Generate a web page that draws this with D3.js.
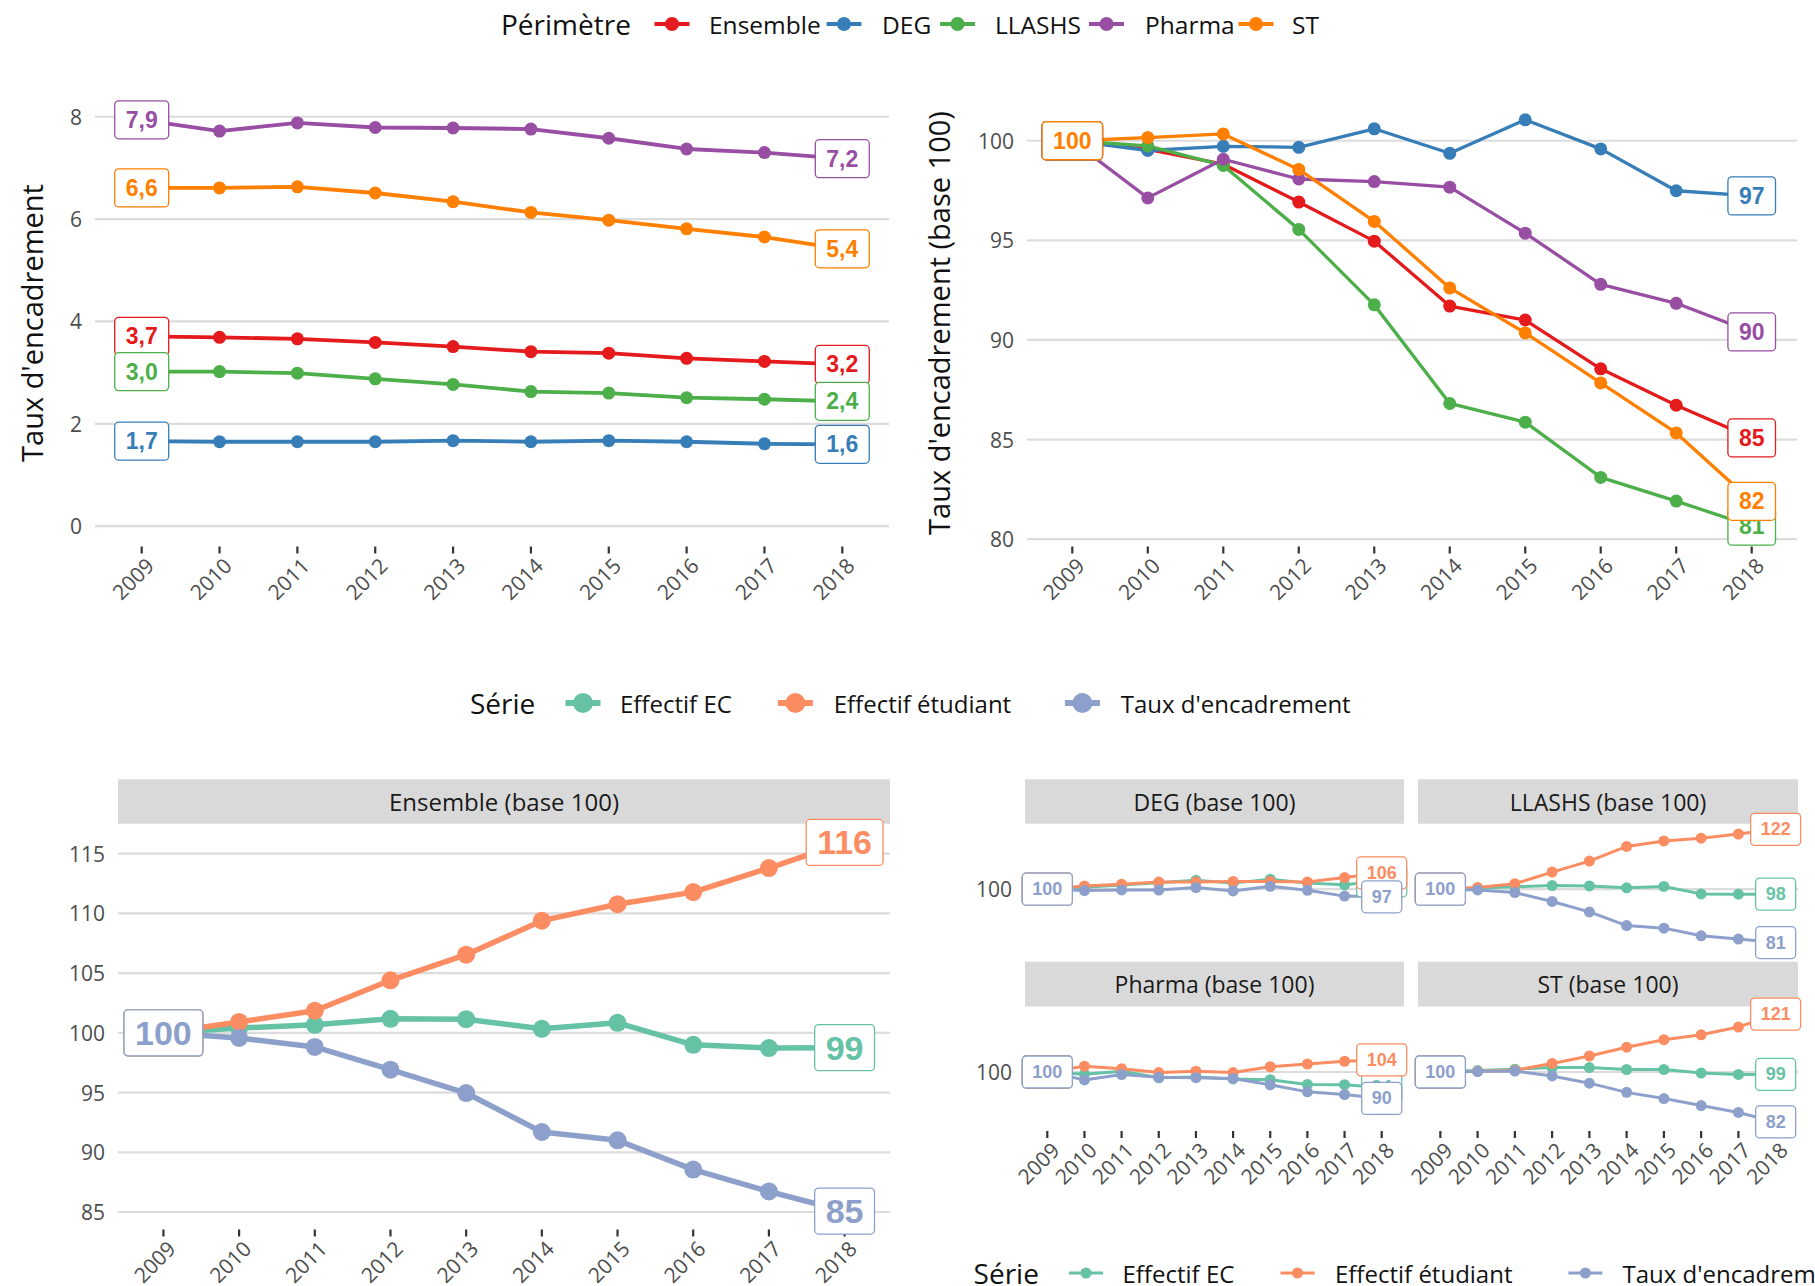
<!DOCTYPE html>
<html>
<head>
<meta charset="utf-8">
<script src="https://cdn.jsdelivr.net/npm/d3@7"></script>
<style>
  body { margin: 0; background: #fff; }
  svg { display: block; }
  text { font-family: "Open Sans", "DejaVu Sans", sans-serif; }
  text.lbl { font-family: "Liberation Sans", Arial, sans-serif; font-weight: bold; }
</style>
</head>
<body>
<svg id="chart" width="1815" height="1286"></svg>
<script>
// ---- data ----
const years = [2009, 2010, 2011, 2012, 2013, 2014, 2015, 2016, 2017, 2018];
const perimetres = ['Ensemble', 'DEG', 'LLASHS', 'Pharma', 'ST'];
const seriesNames = ["Effectif EC", "Effectif étudiant", "Taux d'encadrement"];

// taux d'encadrement (valeurs brutes)
const tauxEnsemble = [3.71, 3.69, 3.66, 3.59, 3.51, 3.41, 3.38, 3.28, 3.22, 3.16];
const tauxDEG      = [1.66, 1.65, 1.65, 1.65, 1.67, 1.65, 1.67, 1.65, 1.61, 1.60];
const tauxLLASHS   = [3.02, 3.02, 2.99, 2.88, 2.77, 2.63, 2.60, 2.51, 2.48, 2.44];
const tauxPharma   = [7.94, 7.72, 7.88, 7.79, 7.78, 7.76, 7.58, 7.37, 7.30, 7.18];
const tauxST       = [6.61, 6.61, 6.63, 6.51, 6.34, 6.13, 5.98, 5.81, 5.65, 5.42];

// taux d'encadrement (base 100)
const indexEnsemble = [100, 99.57, 98.82, 96.92, 94.96, 91.70, 91.00, 88.55, 86.72, 85.08];
const indexDEG      = [100, 99.51, 99.72, 99.67, 100.60, 99.37, 101.05, 99.59, 97.49, 97.23];
const indexLLASHS   = [100, 99.74, 98.76, 95.55, 91.76, 86.81, 85.87, 83.10, 81.91, 80.65];
const indexPharma   = [100, 97.13, 99.07, 98.08, 97.95, 97.67, 95.36, 92.79, 91.84, 90.40];
const indexST       = [100, 100.16, 100.34, 98.56, 95.95, 92.61, 90.35, 87.84, 85.33, 81.90];

// effectif EC (base 100)
const ecEnsemble = [100, 100.40, 100.67, 101.17, 101.14, 100.34, 100.84, 99.00, 98.73, 98.76];
const ecDEG      = [100, 100.7, 101.5, 102.3, 103.2, 102.2, 103.6, 102.2, 101.6, 103.0];
const ecLLASHS   = [100, 100.4, 100.9, 101.3, 101.2, 100.5, 101.0, 98.3, 98.2, 98.2];
const ecPharma   = [100, 99.2, 100.3, 97.9, 98.2, 97.5, 97.2, 95.5, 95.4, 94.4];
const ecST       = [100, 100.5, 101.0, 101.6, 101.6, 100.9, 100.9, 99.6, 99.1, 99.1];

// effectif étudiant (base 100)
const etuEnsemble = [100, 100.91, 101.85, 104.40, 106.54, 109.39, 110.77, 111.78, 113.79, 115.94];
const etuDEG      = [100, 101.2, 101.8, 102.6, 102.6, 102.8, 102.8, 102.6, 104.2, 105.9];
const etuLLASHS   = [100, 100.6, 102.0, 106.2, 110.2, 115.5, 117.5, 118.5, 120.0, 121.7];
const etuPharma   = [100, 102.1, 101.2, 99.8, 100.3, 99.8, 101.9, 102.9, 103.9, 104.4];
const etuST       = [100, 100.3, 100.6, 103.1, 105.8, 109.0, 111.7, 113.5, 116.3, 121.0];

const ticksTaux = [0, 2, 4, 6, 8];
const ticksIndex = [80, 85, 90, 95, 100];
const ticksEnsemble = [85, 90, 95, 100, 105, 110, 115];
const ticksFacets = [100];

// ---- styles ----
const set1 = ['#E41A1C', '#377EB8', '#4DAF4A', '#984EA3', '#FF7F00'];
const set2 = ['#66C2A5', '#FC8D62', '#8DA0CB'];

const svg = d3.select('#chart');

const fmtComma = v => d3.format('.1f')(v).replace('.', ',');
const fmtInt = d3.format('.0f');

function yScaleFor(values, top, bottom, forceZero) {
  let lo = d3.min(values), hi = d3.max(values);
  if (forceZero) lo = Math.min(lo, 0);
  const pad = (hi - lo) * 0.05;
  return d3.scaleLinear().domain([lo - pad, hi + pad]).range([bottom, top]);
}

function drawPanel(opt) {
  const g = svg.append('g');
  const x = d3.scalePoint().domain(years).range([opt.x0, opt.x1]).padding(0.6);
  const y = opt.y;

  g.selectAll(null).data(opt.ticks).join('line')
    .attr('x1', opt.x0).attr('x2', opt.x1)
    .attr('y1', d => y(d)).attr('y2', d => y(d))
    .attr('stroke', '#dcdcdc').attr('stroke-width', 2.2);

  if (opt.yLabels) {
    g.selectAll(null).data(opt.ticks).join('text')
      .attr('x', opt.x0 - 13).attr('y', d => y(d))
      .attr('text-anchor', 'end').attr('dominant-baseline', 'central')
      .attr('font-size', 21).attr('fill', '#4d4d4d')
      .text(d => d);
  }

  if (opt.xAxis) {
    const yb = y.range()[0];
    g.selectAll(null).data(years).join('line')
      .attr('x1', d => x(d)).attr('x2', d => x(d))
      .attr('y1', yb).attr('y2', yb + 7)
      .attr('stroke', '#333').attr('stroke-width', 2.2);
    g.selectAll(null).data(years).join('text')
      .attr('transform', d => `translate(${x(d) + 3},${yb + 10}) rotate(-45)`)
      .attr('text-anchor', 'end').attr('dy', '0.72em')
      .attr('font-size', 21).attr('fill', '#4d4d4d')
      .text(d => d);
  }

  const line = d3.line().x((d, i) => x(years[i])).y(d => y(d));
  opt.series.forEach(s => {
    g.append('path').attr('d', line(s.values))
      .attr('fill', 'none').attr('stroke', s.color)
      .attr('stroke-width', opt.lw).attr('stroke-linejoin', 'round');
  });
  opt.series.forEach(s => {
    g.selectAll(null).data(s.values).join('circle')
      .attr('cx', (d, i) => x(years[i])).attr('cy', d => y(d))
      .attr('r', opt.r).attr('fill', s.color);
  });
  // labels at first and last year
  opt.series.forEach(s => {
    [0, years.length - 1].forEach(i => {
      const lg = g.append('g')
        .attr('transform', `translate(${x(years[i])},${y(s.values[i])})`);
      const rect = lg.append('rect');
      const t = lg.append('text').attr('class', 'lbl')
        .attr('text-anchor', 'middle').attr('dominant-baseline', 'central')
        .attr('font-size', opt.fs)
        .attr('fill', s.color)
        .text(opt.fmt(s.values[i]));
      const w = t.node().getComputedTextLength() + 2 * opt.padX;
      rect.attr('x', -w / 2).attr('y', -opt.boxH / 2)
        .attr('width', w).attr('height', opt.boxH)
        .attr('rx', 4).attr('fill', '#fff')
        .attr('stroke', s.color).attr('stroke-width', 1.3);
    });
  });
}

function drawStrip(x0, x1, y0, y1, label, fs) {
  svg.append('rect').attr('x', x0).attr('y', y0)
    .attr('width', x1 - x0).attr('height', y1 - y0).attr('fill', '#d9d9d9');
  svg.append('text').attr('x', (x0 + x1) / 2).attr('y', (y0 + y1) / 2)
    .attr('text-anchor', 'middle').attr('dominant-baseline', 'central')
    .attr('font-size', fs).attr('fill', '#1a1a1a').text(label);
}

function drawLegend(title, titleX, y, items, key) {
  const g = svg.append('g');
  g.append('text').attr('x', titleX).attr('y', y)
    .attr('dominant-baseline', 'central').attr('font-size', 28)
    .attr('fill', '#111').text(title);
  items.forEach(it => {
    g.append('line')
      .attr('x1', it.kx - key.len / 2).attr('x2', it.kx + key.len / 2)
      .attr('y1', y).attr('y2', y)
      .attr('stroke', it.color).attr('stroke-width', key.lw);
    g.append('circle').attr('cx', it.kx).attr('cy', y).attr('r', key.r).attr('fill', it.color);
    g.append('text').attr('x', it.tx).attr('y', y)
      .attr('dominant-baseline', 'central').attr('font-size', key.fs)
      .attr('fill', '#111').text(it.label);
  });
}

function axisTitle(text, cx, cy) {
  svg.append('text').attr('transform', `translate(${cx},${cy}) rotate(-90)`)
    .attr('text-anchor', 'middle').attr('dominant-baseline', 'central')
    .attr('font-size', 29).attr('fill', '#111').text(text);
}

// ---- top legend ----
const topKeyX = [672, 844, 957.5, 1106.5, 1256];
const topTextX = [709, 882, 995, 1145, 1292];
drawLegend('Périmètre', 501, 24,
  perimetres.map((p, i) => ({ label: p, color: set1[i], kx: topKeyX[i], tx: topTextX[i] })),
  { len: 35, lw: 4, r: 7, fs: 24.5 });

// ---- top-left: taux d'encadrement ----
const tauxSeries = [tauxEnsemble, tauxDEG, tauxLLASHS, tauxPharma, tauxST]
  .map((v, i) => ({ name: perimetres[i], values: v, color: set1[i] }));
drawPanel({
  x0: 95, x1: 889,
  y: yScaleFor(tauxSeries.flatMap(s => s.values), 99.5, 546.5, true),
  ticks: ticksTaux, yLabels: true, xAxis: true,
  series: tauxSeries, lw: 3.8, r: 6.5,
  fmt: fmtComma, fs: 23, padX: 11, boxH: 38
});
axisTitle("Taux d'encadrement", 31, 323);

// ---- top-right: base 100 ----
const indexSeries = [indexEnsemble, indexDEG, indexLLASHS, indexPharma, indexST]
  .map((v, i) => ({ name: perimetres[i], values: v, color: set1[i] }));
drawPanel({
  x0: 1027, x1: 1797,
  y: yScaleFor(indexSeries.flatMap(s => s.values), 99.5, 546.5, false),
  ticks: ticksIndex, yLabels: true, xAxis: true,
  series: indexSeries, lw: 3.3, r: 6.5,
  fmt: fmtInt, fs: 23, padX: 11, boxH: 38
});
axisTitle("Taux d'encadrement (base 100)", 938, 323);

// ---- middle legend ----
drawLegend('Série', 470, 703,
  seriesNames.map((n, i) => ({ label: n, color: set2[i], kx: [583, 795.4, 1082.4][i], tx: [620, 833.7, 1120.7][i] })),
  { len: 35, lw: 6, r: 10, fs: 24 });

// ---- bottom-left: Ensemble (base 100) ----
drawStrip(118, 890, 779.3, 823.7, 'Ensemble (base 100)', 24);
drawPanel({
  x0: 118, x1: 890,
  y: yScaleFor([...ecEnsemble, ...etuEnsemble, ...indexEnsemble], 824, 1229.5, false),
  ticks: ticksEnsemble, yLabels: true, xAxis: true,
  series: [ecEnsemble, etuEnsemble, indexEnsemble].map((v, i) => ({ name: seriesNames[i], values: v, color: set2[i] })),
  lw: 5.5, r: 9,
  fmt: fmtInt, fs: 34, padX: 11, boxH: 46
});

// ---- bottom-right: facets ----
const facets = [
  { name: 'DEG', ec: ecDEG, etu: etuDEG, taux: indexDEG },
  { name: 'LLASHS', ec: ecLLASHS, etu: etuLLASHS, taux: indexLLASHS },
  { name: 'Pharma', ec: ecPharma, etu: etuPharma, taux: indexPharma },
  { name: 'ST', ec: ecST, etu: etuST, taux: indexST }
];
const facetCols = [[1025, 1404], [1418, 1798]];
const facetRows = [{ s0: 779.3, s1: 823.7, p1: 948.2 }, { s0: 961.7, s1: 1006.5, p1: 1131 }];
const facetValues = facets.flatMap(f => [...f.ec, ...f.etu, ...f.taux]);

facets.forEach((f, k) => {
  const [x0, x1] = facetCols[k % 2];
  const row = facetRows[Math.floor(k / 2)];
  drawStrip(x0, x1, row.s0, row.s1, `${f.name} (base 100)`, 23);
});
facets.forEach((f, k) => {
  const [x0, x1] = facetCols[k % 2];
  const row = facetRows[Math.floor(k / 2)];
  drawPanel({
    x0, x1,
    y: yScaleFor(facetValues, row.s1, row.p1, false),
    ticks: ticksFacets, yLabels: k % 2 === 0, xAxis: k >= 2,
    series: [f.ec, f.etu, f.taux].map((v, i) => ({ name: seriesNames[i], values: v, color: set2[i] })),
    lw: 3, r: 5.5,
    fmt: fmtInt, fs: 18, padX: 10, boxH: 32
  });
});

// ---- bottom legend ----
drawLegend('Série', 973.6, 1273,
  seriesNames.map((n, i) => ({ label: n, color: set2[i], kx: [1086, 1297.5, 1585.4][i], tx: [1122.5, 1335, 1622.5][i] })),
  { len: 34, lw: 3, r: 5.5, fs: 24 });
</script>
</body>
</html>
